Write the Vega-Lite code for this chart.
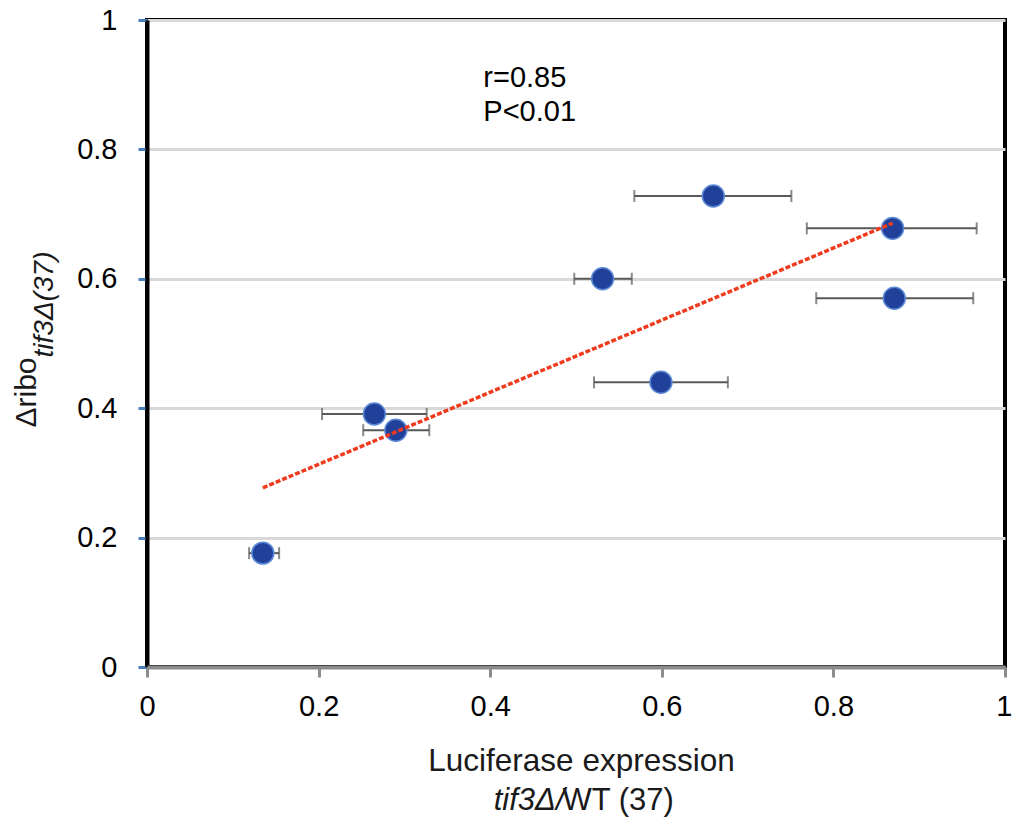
{
  "$schema": "https://vega.github.io/schema/vega-lite/v6.json",
  "width": 858,
  "height": 647,
  "autosize": {"type": "none"},
  "padding": {"left": 147, "top": 20, "right": 7, "bottom": 150},
  "background": "white",
  "config": {
    "view": {"stroke": "#000000", "strokeWidth": 4},
    "font": "Liberation Sans",
    "axis": {"labelFont": "Liberation Sans", "titleFont": "Liberation Sans", "labelFlush": false, "labelOverlap": false}
  },
  "datasets": {
    "pts": [
      {"x": 0.135, "y": 0.176, "lo": 0.119, "hi": 0.154},
      {"x": 0.265, "y": 0.391, "lo": 0.204, "hi": 0.326},
      {"x": 0.290, "y": 0.366, "lo": 0.252, "hi": 0.329},
      {"x": 0.531, "y": 0.600, "lo": 0.498, "hi": 0.565},
      {"x": 0.599, "y": 0.440, "lo": 0.521, "hi": 0.677},
      {"x": 0.660, "y": 0.728, "lo": 0.568, "hi": 0.751},
      {"x": 0.869, "y": 0.678, "lo": 0.769, "hi": 0.967},
      {"x": 0.871, "y": 0.570, "lo": 0.780, "hi": 0.963}
    ],
    "trend": [
      {"x": 0.135, "y": 0.277},
      {"x": 0.869, "y": 0.686}
    ],
    "notes": [
      {"x": 0.392, "y": 0.910, "t": "r=0.85"},
      {"x": 0.392, "y": 0.858, "t": "P<0.01"}
    ]
  },
  "layer": [
    {
      "data": {"name": "pts"},
      "mark": {"type": "rule", "color": "#595959", "strokeWidth": 2},
      "encoding": {
        "x": {"field": "lo", "type": "quantitative", "scale": {"domain": [0, 1], "nice": false, "zero": false},
          "axis": {"orient": "bottom", "values": [0, 0.2, 0.4, 0.6, 0.8, 1], "format": "~g", "grid": false,
            "domainColor": "#8c8c8c", "domainWidth": 4, "tickColor": "#8c8c8c", "tickWidth": 3, "tickSize": 10,
            "labelFontSize": 29, "labelColor": "#000000", "labelPadding": 15,
            "labelAlign": {"condition": {"test": "datum.value == 1", "value": "right"}, "value": "center"},
            "labelOffset": {"condition": {"test": "datum.value == 1", "value": 7}, "value": 0},
            "title": "Luciferase expression", "titleFontSize": 31.5, "titleFontWeight": "normal", "titleColor": "#1a1a1a",
            "titleX": 434, "titleY": 103, "titleBaseline": "alphabetic", "titleAlign": "center", "zindex": 1}},
        "x2": {"field": "hi"},
        "y": {"field": "y", "type": "quantitative", "scale": {"domain": [0, 1], "nice": false, "zero": false},
          "axis": {"orient": "left", "values": [0, 0.2, 0.4, 0.6, 0.8, 1], "format": "~g", "grid": true,
            "gridColor": "#d9d9d9", "gridWidth": 3, "domainColor": "#000000", "domainWidth": 4,
            "tickColor": "#4a7ebb", "tickWidth": 3, "tickSize": 9,
            "labelFontSize": 29, "labelColor": "#000000", "labelPadding": 21,
            "title": "Δribo", "titleFontSize": 30, "titleFontWeight": "normal", "titleColor": "#1a1a1a",
            "titleX": -121, "titleY": 372, "titleAlign": "center", "titleBaseline": "middle"}}
      }
    },
    {
      "data": {"name": "pts"},
      "mark": {"type": "tick", "orient": "vertical", "color": "#595959", "thickness": 2, "size": 12},
      "encoding": {
        "x": {"field": "lo", "type": "quantitative",
          "axis": {"orient": "bottom", "title": "tif3Δ/", "titleFontStyle": "italic", "titleFontSize": 31,
            "titleFontWeight": "normal", "titleColor": "#1a1a1a", "titleX": 417, "titleY": 142,
            "titleAlign": "right", "titleBaseline": "alphabetic", "labels": false, "ticks": false, "domain": false, "grid": false}},
        "y": {"field": "y", "type": "quantitative",
          "axis": {"orient": "left", "title": "tif3Δ(37)", "titleFontStyle": "italic", "titleFontSize": 28,
            "titleFontWeight": "normal", "titleColor": "#1a1a1a", "titleX": -103, "titleY": 284,
            "titleAlign": "center", "titleBaseline": "middle", "labels": false, "ticks": false, "domain": false, "grid": false}}
      }
    },
    {
      "data": {"name": "pts"},
      "mark": {"type": "tick", "orient": "vertical", "color": "#595959", "thickness": 2, "size": 12},
      "encoding": {
        "x": {"field": "hi", "type": "quantitative",
          "axis": {"orient": "bottom", "title": "WT (37)", "titleFontSize": 31,
            "titleFontWeight": "normal", "titleColor": "#1a1a1a", "titleX": 415, "titleY": 142,
            "titleAlign": "left", "titleBaseline": "alphabetic", "labels": false, "ticks": false, "domain": false, "grid": false}},
        "y": {"field": "y", "type": "quantitative", "axis": null}
      }
    },
    {
      "data": {"name": "pts"},
      "mark": {"type": "point", "shape": "circle", "filled": true, "size": 480, "fill": "#21409a", "stroke": "#5b8ad6", "strokeWidth": 1.5, "opacity": 1},
      "encoding": {
        "x": {"field": "x", "type": "quantitative", "axis": null},
        "y": {"field": "y", "type": "quantitative", "axis": null}
      }
    },
    {
      "data": {"name": "trend"},
      "mark": {"type": "line", "color": "#f03c1e", "strokeWidth": 3.5, "strokeDash": [5, 2]},
      "encoding": {
        "x": {"field": "x", "type": "quantitative", "axis": null},
        "y": {"field": "y", "type": "quantitative", "axis": null}
      }
    },
    {
      "data": {"name": "notes"},
      "mark": {"type": "text", "align": "left", "baseline": "middle", "fontSize": 29, "color": "#000000"},
      "encoding": {
        "x": {"field": "x", "type": "quantitative", "axis": null},
        "y": {"field": "y", "type": "quantitative", "axis": null},
        "text": {"field": "t"}
      }
    }
  ],
  "resolve": {"axis": {"x": "independent", "y": "independent"}}
}
